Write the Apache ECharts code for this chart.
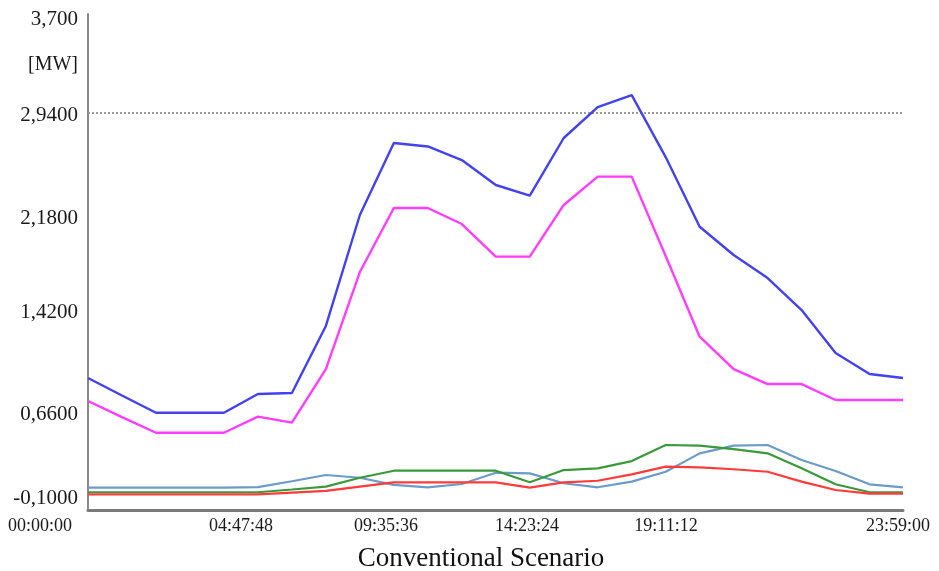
<!DOCTYPE html>
<html>
<head>
<meta charset="utf-8">
<script src="https://cdn.jsdelivr.net/npm/echarts@6/dist/echarts.min.js"></script>
<style>html,body{margin:0;padding:0;background:#fff;}#c{width:939px;height:571px;}</style>
</head>
<body>
<div id="c"></div>
<script>
// ---- data ----
const timeLabels = ['00:00','01:00','02:00','03:00','04:00','05:00','06:00','07:00','08:00','09:00','10:00','11:00','12:00',
  '13:00','14:00','15:00','16:00','17:00','18:00','19:00','20:00','21:00','22:00','23:00','23:59'];
const totalLoad = [0.911,0.777,0.645,0.645,0.645,0.789,0.796,1.310,2.160,2.712,2.685,2.581,2.390,2.308,2.750,2.987,3.079,2.604,2.070,1.854,1.677,1.432,1.103,0.942,0.911];
const loadB     = [0.735,0.612,0.492,0.492,0.492,0.615,0.569,0.980,1.723,2.214,2.214,2.091,1.841,1.841,2.237,2.454,2.454,1.846,1.228,0.980,0.865,0.865,0.743,0.743,0.743];
const steelLine = [0.071,0.071,0.071,0.071,0.071,0.075,0.120,0.168,0.147,0.092,0.074,0.099,0.186,0.181,0.105,0.074,0.117,0.193,0.334,0.393,0.398,0.283,0.199,0.097,0.074];
const greenLine = [0.036,0.036,0.036,0.036,0.036,0.036,0.057,0.079,0.147,0.201,0.201,0.201,0.201,0.112,0.206,0.219,0.275,0.398,0.393,0.367,0.334,0.219,0.097,0.036,0.036];
const redLine   = [0.020,0.020,0.020,0.020,0.020,0.020,0.033,0.046,0.079,0.112,0.112,0.112,0.112,0.071,0.112,0.124,0.173,0.232,0.227,0.212,0.193,0.117,0.053,0.025,0.025];
const xTickLabels = ['00:00:00','04:47:48','09:35:36','14:23:24','19:11:12','23:59:00'];
const yTickValues = [-0.1, 0.66, 1.42, 2.18, 2.94, 3.7];
const yTickLabels = ['-0,1000','0,6600','1,4200','2,1800','2,9400','3,700'];
const gridLineValue = 2.94;
const yUnit = '[MW]';
const title = 'Conventional Scenario';

// ---- build ----
const toHours = s => { const p = s.split(':').map(Number); return p[0] + (p[1]||0)/60 + (p[2]||0)/3600; };
const hours = timeLabels.map(toHours);
const xTickValues = xTickLabels.map(toHours);
const pair = arr => arr.map((v,i)=>[hours[i], v]);
const FONT = '"Liberation Serif", "Times New Roman", serif';

const xShift = [-48,-10,-28,-50,-74,-5];
const xRich = {};
xShift.forEach((s,i)=>{ xRich['x'+i] = {fontFamily:FONT,fontSize:18,color:'#1a1a1a',padding:[0, s<0?-2*s:0, (i===2?6:0), s>0?2*s:0]}; });
const yShift = [-12,4,1,6,2,5];
const yRich = {};
yShift.forEach((s,i)=>{ yRich['y'+i] = {fontFamily:FONT,fontSize:21,color:'#1a1a1a',padding:[s>0?2*s:0, 0, s<0?-2*s:0, 0]}; });

const nearestIdx = (arr, v) => { let b=0; arr.forEach((a,i)=>{ if (Math.abs(a-v) < Math.abs(arr[b]-v)) b=i; }); return b; };

const mk = (name, data, color, z, w) => ({
  name, type:'line', data: pair(data), showSymbol:false, z,
  lineStyle:{color, width:w}, itemStyle:{color}, animation:false
});

const chart = echarts.init(document.getElementById('c'));
chart.setOption({
  animation:false,
  backgroundColor:'#fff',
  title:{text:title, left:476, textAlign:'center', top:540,
    textStyle:{fontFamily:FONT, fontSize:27, fontWeight:'normal', color:'#111'}},
  grid:{left:88, right:36, top:14, bottom:61},
  xAxis:{type:'value', min:0, max:hours[hours.length-1],
    axisLine:{onZero:false, lineStyle:{color:'#7a7a7a', width:3}},
    axisTick:{show:false}, splitLine:{show:false},
    axisLabel:{customValues:xTickValues, margin:7,
      formatter:(v)=>{ const i = nearestIdx(xTickValues, v); return '{x'+i+'|'+xTickLabels[i]+'}'; },
      rich:xRich, fontFamily:FONT, fontSize:18, color:'#1a1a1a'}},
  yAxis:{type:'value', min:yTickValues[0], max:yTickValues[yTickValues.length-1],
    name:yUnit, nameLocation:'end', nameGap:-61,
    nameTextStyle:{fontFamily:FONT, fontSize:20, color:'#1a1a1a', align:'right', padding:[0,10,0,0]},
    axisLine:{show:true, onZero:false, lineStyle:{color:'#8a8a8a', width:2}},
    axisTick:{show:false}, splitLine:{show:false},
    axisLabel:{customValues:yTickValues, margin:10,
      formatter:(v)=>{ const i = nearestIdx(yTickValues, v); return '{y'+i+'|'+yTickLabels[i]+'}'; },
      rich:yRich, fontFamily:FONT, fontSize:21, color:'#1a1a1a'}},
  series:[
    Object.assign(mk('steel', steelLine, '#6b9bc9', 2, 2.2), {
      markLine:{silent:true, symbol:'none', label:{show:false},
        lineStyle:{color:'#9a9a9a', type:'dotted', width:2},
        data:[{yAxis:gridLineValue}]}}),
    mk('green', greenLine, '#3a9a3a', 3, 2.2),
    mk('red', redLine, '#ff3b3b', 4, 2.2),
    mk('magenta', loadB, '#ff3cff', 5, 2.4),
    mk('blue', totalLoad, '#4242f2', 6, 2.4)
  ]
});
</script>
</body>
</html>
